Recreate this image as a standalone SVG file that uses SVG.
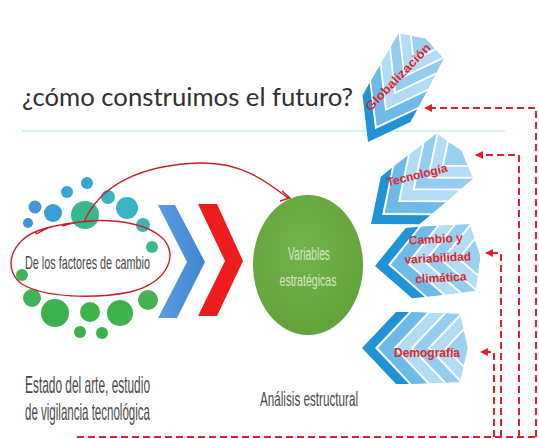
<svg xmlns="http://www.w3.org/2000/svg" width="539" height="439" viewBox="0 0 539 439">
<style>
.title{font-family:Lato,"Liberation Sans",sans-serif;font-size:25px;fill:#303030}
.narrow{font-family:"Liberation Sans",Arial,sans-serif;fill:#4a4a4a}
.blk{font-family:"Liberation Sans",Arial,sans-serif;font-weight:bold;font-size:12px;fill:#e0262b;text-anchor:middle}
.dash{fill:none;stroke:#e0202a;stroke-width:2;stroke-dasharray:7 4}
.dark{fill:#1f93d6}
.wl{fill:none;stroke:#fff;stroke-width:2}
.hand{fill:none;stroke:#c8202a;stroke-width:1.4}
</style>
<defs>
<clipPath id="blkClip"><polygon points="16,0 49,-36 98,-34 106,0 98,34 49,36"/></clipPath>
<g id="block">
<polygon class="dark" points="0,0 34,-36 47,-36 13,0 47,36 34,36"/>
<g clip-path="url(#blkClip)">
<polygon fill="#9ad1f1" points="16,0 49,-36 98,-34 106,0 98,34 49,36"/>
<polygon fill="#6ebbea" points="16,0 54,-40 71,-40 33,0 71,40 54,40"/>
<polygon fill="#b0dcf5" points="33,0 71,-40 88,-40 50,0 88,40 71,40"/>
<polygon fill="#93cdef" points="50,0 88,-40 105,-40 67,0 105,40 88,40"/>
<polygon fill="#b3ddf6" points="67,0 105,-40 122,-40 84,0 122,40 105,40"/>
<polyline class="wl" points="71,-40 33,0 71,40"/>
<polyline class="wl" points="88,-40 50,0 88,40"/>
<polyline class="wl" points="105,-40 67,0 105,40"/>
<polyline class="wl" points="122,-40 84,0 122,40"/>
</g>
</g>
<marker id="ah" viewBox="0 0 8 8" refX="7" refY="4" markerWidth="4" markerHeight="4" orient="auto">
<path d="M0,0 L8,4 L0,8 z" fill="#e0202a"/>
</marker>
<linearGradient id="gBlue" x1="0" y1="0" x2="1" y2="0"><stop offset="0" stop-color="#5b9de0"/><stop offset="1" stop-color="#3f85d2"/></linearGradient>
<radialGradient id="gGreen" cx="0.45" cy="0.4" r="0.6"><stop offset="0" stop-color="#74b34c"/><stop offset="1" stop-color="#62a33a"/></radialGradient>
</defs>

<g id="title">
<text class="title" x="22" y="106" textLength="331" lengthAdjust="spacingAndGlyphs">¿cómo construimos el futuro?</text>
<line x1="22" y1="131" x2="505" y2="131" stroke="#c6ece6" stroke-width="1.5"/>
</g>

<g id="factores">
<circle cx="152" cy="247" r="6" fill="#3db88f"/>
<circle cx="143" cy="225" r="7" fill="#3cb5a8"/>
<circle cx="127" cy="208" r="11" fill="#38b4c2"/>
<circle cx="108" cy="197" r="7" fill="#3ab2c8"/>
<circle cx="87" cy="183" r="6" fill="#34a8d0"/>
<circle cx="67" cy="192" r="6" fill="#35a6d2"/>
<circle cx="85" cy="215" r="14" fill="#3bb78f"/>
<circle cx="53" cy="213" r="9" fill="#3a9fd6"/>
<circle cx="35" cy="207" r="6.5" fill="#4a93d8"/>
<circle cx="28" cy="223" r="5" fill="#4590d8"/>
<circle cx="22" cy="275" r="6" fill="#40b35a"/>
<circle cx="32" cy="298" r="9" fill="#40b35a"/>
<circle cx="55" cy="313" r="14" fill="#3fb04f"/>
<circle cx="90" cy="312" r="10" fill="#3db34a"/>
<circle cx="120" cy="313" r="13" fill="#3fb14d"/>
<circle cx="148" cy="300" r="10" fill="#48b050"/>
<circle cx="80" cy="332" r="6" fill="#3cb049"/>
<circle cx="102" cy="333" r="6" fill="#3cb049"/>
<path class="hand" d="M62,226 C95,216 140,220 160,236 C180,252 170,282 130,292 C95,299 45,298 22,284 C2,270 10,240 40,230 C55,225 70,222 95,221 M48,228 C40,231 35,236 36,232"/>
<text class="narrow" x="25" y="269" font-size="19" textLength="125" lengthAdjust="spacingAndGlyphs">De los factores de cambio</text>
</g>

<g id="chevrons">
<polygon fill="url(#gBlue)" points="158,205 175,205 205,262 177,318 158,318 187,262"/>
<polygon fill="#ee1c1c" points="198,204 217,204 243,261 217,316 198,316 225,261"/>
</g>

<g id="variables">
<ellipse cx="308" cy="265" rx="55" ry="70" fill="url(#gGreen)"/>
<text class="narrow" x="309" y="260" font-size="18" style="fill:#d3e8c0" text-anchor="middle" textLength="42" lengthAdjust="spacingAndGlyphs">Variables</text>
<text class="narrow" x="308" y="286" font-size="17" style="fill:#d3e8c0" text-anchor="middle" textLength="57" lengthAdjust="spacingAndGlyphs">estratégicas</text>
</g>

<g id="labels">
<text class="narrow" x="25" y="393" font-size="24" textLength="125" lengthAdjust="spacingAndGlyphs">Estado del arte, estudio</text>
<text class="narrow" x="25" y="420" font-size="24" textLength="125" lengthAdjust="spacingAndGlyphs">de vigilancia tecnológica</text>
<text class="narrow" x="260" y="406" font-size="21" textLength="98" lengthAdjust="spacingAndGlyphs">Análisis estructural</text>
</g>

<g id="node-globalizacion">
<use href="#block" transform="translate(368,142) rotate(-61) scale(1.12,0.76)"/>
<text class="blk" transform="translate(401,80) rotate(-46)" textLength="88" lengthAdjust="spacingAndGlyphs">Globalización</text>
</g>
<g id="node-tecnologia">
<use href="#block" transform="translate(371,224) rotate(-39) scale(1.1,0.85)"/>
<text class="blk" transform="translate(418,179) rotate(-14)" textLength="62" lengthAdjust="spacingAndGlyphs">Tecnología</text>
</g>
<g id="node-cambio">
<use href="#block" transform="translate(375,266) rotate(-5) scale(1,0.98)"/>
<text class="blk" transform="rotate(-3 438 262)"><tspan x="437" y="243">Cambio y</tspan><tspan x="438" y="262">variabilidad</tspan><tspan x="440" y="282">climática</tspan></text>
</g>
<g id="node-demografia">
<use href="#block" transform="translate(362,348)"/>
<text class="blk" x="427" y="357">Demografía</text>
</g>

<g id="connectors">
<path class="hand" d="M84,222 C100,185 140,165 200,163 C240,162 265,180 288,198"/>
<path class="hand" d="M282,191 L290,198 L280,201"/>
<path class="dash" d="M77,437 L536,437"/>
<path class="dash" marker-end="url(#ah)" d="M536,437 L536,108 L425,108"/>
<path class="dash" marker-end="url(#ah)" d="M519,437 L519,155 L476,155"/>
<path class="dash" marker-end="url(#ah)" d="M501,437 L501,253 L486,253"/>
<path class="dash" marker-end="url(#ah)" d="M494,437 L494,352 L481,352"/>
</g>
</svg>
